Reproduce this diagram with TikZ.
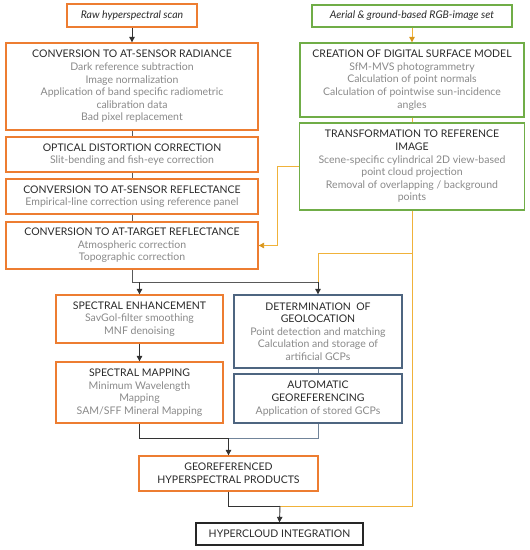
\documentclass[tikz,border=0pt]{standalone}
\usepackage{fontspec}
\setmainfont{Lato}
\usetikzlibrary{arrows.meta}
\definecolor{boxor}{HTML}{ED7D31}
\definecolor{boxgr}{HTML}{70AD47}
\definecolor{boxbl}{HTML}{4E6580}
\definecolor{lnor}{HTML}{F0B23A}
\definecolor{arror}{HTML}{D9961C}
\definecolor{tgray}{HTML}{8A8A8A}
\definecolor{ttitle}{HTML}{2A2A2A}
\newcommand{\dt}[1]{{\color{tgray}#1}}
\tikzset{
  basebox/.style={draw, line width=1.3pt, fill=white, align=center, inner sep=1pt,
    font=\fontsize{10.5}{12.6}\selectfont, text=ttitle},
  obox/.style={basebox, draw=boxor},
  gbox/.style={basebox, draw=boxgr},
  bbox/.style={basebox, draw=boxbl},
  kbox/.style={basebox, draw=black!85},
  blk/.style={draw=black!80, line width=0.9pt},
  gln/.style={draw=black!65, line width=0.9pt},
  bln/.style={draw=boxbl!80, line width=0.9pt},
  oln/.style={draw=lnor, line width=0.9pt},
  karr/.style={-{Triangle[width=5.5pt,length=5.5pt]}},
  oarr/.style={-{Triangle[width=5.5pt,length=5.5pt,color=arror]}},
}
\begin{document}
\begin{tikzpicture}[x=1pt,y=-1pt]
\useasboundingbox (0,0) rectangle (530,550);
% left column
\node[obox, minimum width=130pt, minimum height=23pt] (raw) at (132,15.5) {\itshape Raw hyperspectral scan};
\node[obox, minimum width=252pt, minimum height=87pt] (rad) at (132,86.5) {CONVERSION TO AT-SENSOR RADIANCE\\
  \dt{Dark reference subtraction}\\ \dt{Image normalization}\\ \dt{Application of band specific radiometric}\\ \dt{calibration data}\\ \dt{Bad pixel replacement}};
\node[obox, minimum width=252pt, minimum height=35pt] (opt) at (132,154.5) {OPTICAL DISTORTION CORRECTION\\ \dt{Slit-bending and fish-eye correction}};
\node[obox, minimum width=252pt, minimum height=35pt] (sref) at (132,196.5) {CONVERSION TO AT-SENSOR REFLECTANCE\\ \dt{Empirical-line correction using reference panel}};
\node[obox, minimum width=252pt, minimum height=47pt] (tref) at (132,245.5) {CONVERSION TO AT-TARGET REFLECTANCE\\ \dt{Atmospheric correction}\\ \dt{Topographic correction}};
% right column
\node[gbox, minimum width=200pt, minimum height=22pt] (aer) at (412,16) {\itshape Aerial \& ground-based RGB-image set};
\node[gbox, minimum width=224pt, minimum height=74pt] (dsm) at (412,80) {CREATION OF DIGITAL SURFACE MODEL\\
  \dt{SfM-MVS photogrammetry}\\ \dt{Calculation of point normals}\\ \dt{Calculation of pointwise sun-incidence}\\ \dt{angles}};
\node[gbox, minimum width=225pt, minimum height=87pt] (trf) at (412,166.5) {TRANSFORMATION TO REFERENCE\\ IMAGE\\
  \dt{Scene-specific cylindrical 2D view-based}\\ \dt{point cloud projection}\\ \dt{Removal of overlapping / background}\\ \dt{points}};
% middle
\node[obox, minimum width=167pt, minimum height=48pt] (enh) at (139.5,319) {SPECTRAL ENHANCEMENT\\ \dt{SavGol-filter smoothing}\\ \dt{MNF denoising}};
\node[obox, minimum width=167pt, minimum height=61pt] (map) at (139.5,392.5) {SPECTRAL MAPPING\\ \dt{Minimum Wavelength}\\ \dt{Mapping}\\ \dt{SAM/SFF Mineral Mapping}};
\node[bbox, minimum width=168pt, minimum height=73pt] (det) at (318,331.5) {DETERMINATION\ \ OF\\ GEOLOCATION\\ \dt{Point detection and matching}\\ \dt{Calculation and storage of}\\ \dt{artificial GCPs}};
\node[bbox, minimum width=168pt, minimum height=49pt] (aut) at (318,398.5) {AUTOMATIC\\ GEOREFERENCING\\ \dt{Application of stored GCPs}};
\node[obox, minimum width=179pt, minimum height=35pt] (geo) at (228.5,473.5) {GEOREFERENCED\\ HYPERSPECTRAL PRODUCTS};
\node[kbox, minimum width=167pt, minimum height=22pt] (hyp) at (279.5,534) {HYPERCLOUD INTEGRATION};
% coordinates
\coordinate (jA) at (132,282);
\coordinate (jB) at (318,282);
\coordinate (jO) at (412,253);
\coordinate (jC) at (228.5,438);
\coordinate (jD) at (280,506);
\coordinate (jE) at (412,506);
% orange connectors
\draw[oln, oarr] (aer.south) -- (dsm.north);
\draw[oln] (dsm.south) -- (trf.north);
\draw[oln, oarr] (trf.west) -- ++(-21,0) |- (tref.east);
\draw[oln] (trf.south) -- (jE) -- (jD);
\draw[oln] (jO) -| (jB);
% black / gray connectors left
\draw[blk, karr] (raw.south) -- (rad.north);
\draw[gln] (rad.south) -- (opt.north);
\draw[gln] (opt.south) -- (sref.north);
\draw[gln] (sref.south) -- (tref.north);
\draw[gln] (tref.south) -- (jA) -- (jB);
\draw[blk, karr] (enh.north |- jA) -- (enh.north);
\draw[blk, karr] (jB) -- (det.north);
\draw[blk, karr] (enh.south) -- (map.north);
\draw[bln] (det.south) -- (aut.north);
\draw[bln] (aut.south) |- (jC);
\draw[blk] (map.south) |- (jC);
\draw[blk, karr] (jC) -- (geo.north);
\draw[blk] (geo.south) |- (jD);
\draw[blk, karr] (jD) -- (hyp.north);
\end{tikzpicture}
\end{document}
